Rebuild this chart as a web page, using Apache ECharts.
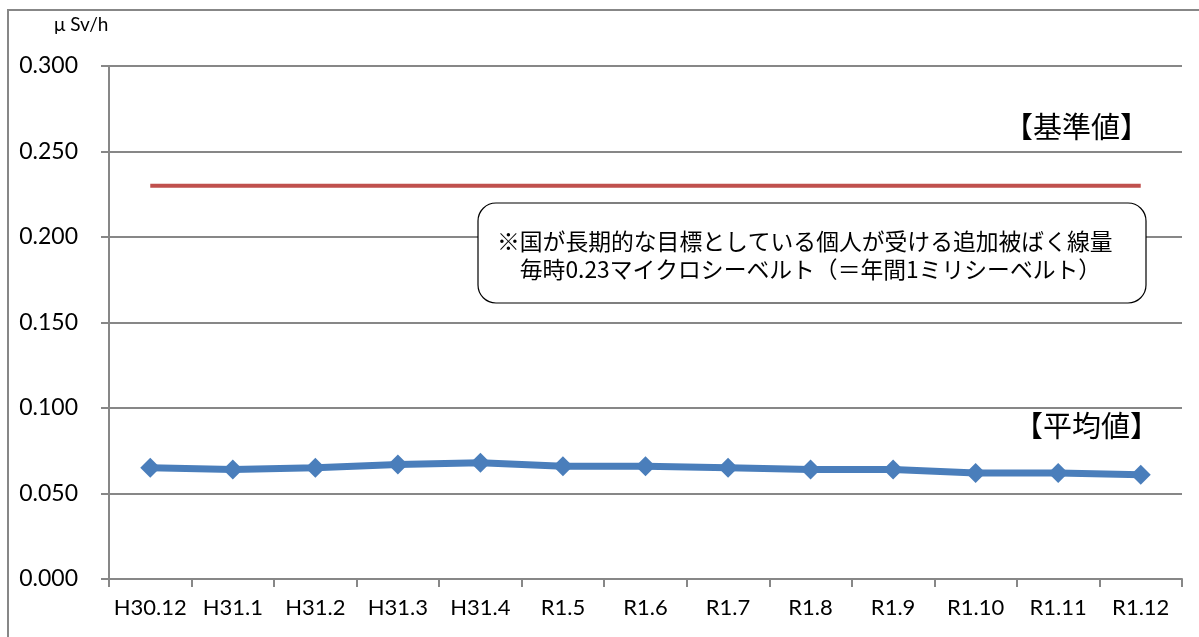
<!DOCTYPE html>
<html>
<head>
<meta charset="utf-8">
<script src="https://cdn.jsdelivr.net/npm/echarts@6/dist/echarts.min.js"></script>
<style>
  html, body { margin: 0; padding: 0; background: #fff; }
  #chart { width: 1199px; height: 637px; }
</style>
</head>
<body>
<div id="chart"></div>
<script>
const months = ['H30.12', 'H31.1', 'H31.2', 'H31.3', 'H31.4', 'R1.5', 'R1.6', 'R1.7', 'R1.8', 'R1.9', 'R1.10', 'R1.11', 'R1.12']
const averageValues = [0.065, 0.064, 0.065, 0.067, 0.068, 0.066, 0.066, 0.065, 0.064, 0.064, 0.062, 0.062, 0.061]
const standardValues = months.map(() => 0.23)
const yTicks = [0, 0.05, 0.1, 0.15, 0.2, 0.25, 0.3]

const fontLatin = 'Lato, "Noto Sans CJK JP", sans-serif'
const fontJp = '"Noto Sans CJK JP", sans-serif'

const chart = echarts.init(document.getElementById('chart'))

const option = {
  backgroundColor: '#ffffff',
  animation: false,
  grid: { left: 109, right: 17, top: 66, bottom: 58 },
  xAxis: {
    type: 'category',
    data: months,
    boundaryGap: true,
    axisLine: { lineStyle: { color: '#878787', width: 2 } },
    axisTick: { show: true, interval: 0, length: 8, lineStyle: { color: '#878787', width: 2 } },
    axisLabel: { interval: 0, color: '#000', fontSize: 22, fontFamily: fontLatin, margin: 18 },
    splitLine: { show: false }
  },
  yAxis: {
    type: 'value',
    min: yTicks[0],
    max: yTicks[yTicks.length - 1],
    interval: 0.05,
    axisLine: { show: true, lineStyle: { color: '#878787', width: 2 } },
    axisTick: { show: true, length: 8, lineStyle: { color: '#878787', width: 2 } },
    axisLabel: {
      color: '#000', fontSize: 23, fontFamily: fontLatin, margin: 31,
      formatter: v => v.toFixed(3)
    },
    splitLine: { lineStyle: { color: '#878787', width: 2 } }
  },
  series: [
    {
      name: '基準値',
      type: 'line',
      data: standardValues,
      symbol: 'none',
      lineStyle: { color: '#C0504D', width: 4 },
      z: 2
    },
    {
      name: '平均値',
      type: 'line',
      data: averageValues,
      symbol: 'diamond',
      symbolSize: [20, 20],
      lineStyle: { color: '#4A7EBB', width: 7 },
      itemStyle: { color: '#4A7EBB' },
      z: 3
    }
  ],
  graphic: [
    // outer chart frame (only top and left edges visible)
    {
      type: 'rect',
      shape: { x: 8, y: 10, width: 1220, height: 660 },
      style: { fill: 'none', stroke: '#878787', lineWidth: 2 },
      z: 0
    },
    {
      type: 'text',
      left: 54, top: 15,
      style: { text: 'μ Sv/h', fill: '#000', font: '19px ' + fontLatin }
    },
    {
      type: 'text',
      left: 1004, top: 112,
      style: { text: '【基準値】', fill: '#000', font: '29px ' + fontJp }
    },
    {
      type: 'text',
      left: 1014, top: 411,
      style: { text: '【平均値】', fill: '#000', font: '29px ' + fontJp }
    },
    {
      type: 'rect',
      shape: { x: 478, y: 203, width: 668, height: 100, r: 18 },
      style: { fill: '#fff', stroke: '#000', lineWidth: 1.2 },
      z: 10
    },
    {
      type: 'text',
      left: 497, top: 227,
      style: {
        text: '※国が長期的な目標としている個人が受ける追加被ばく線量\n　毎時0.23マイクロシーベルト（＝年間1ミリシーベルト）',
        fill: '#000', font: '22.8px ' + fontJp, lineHeight: 28
      },
      z: 11
    }
  ]
}

chart.setOption(option)
</script>
</body>
</html>
